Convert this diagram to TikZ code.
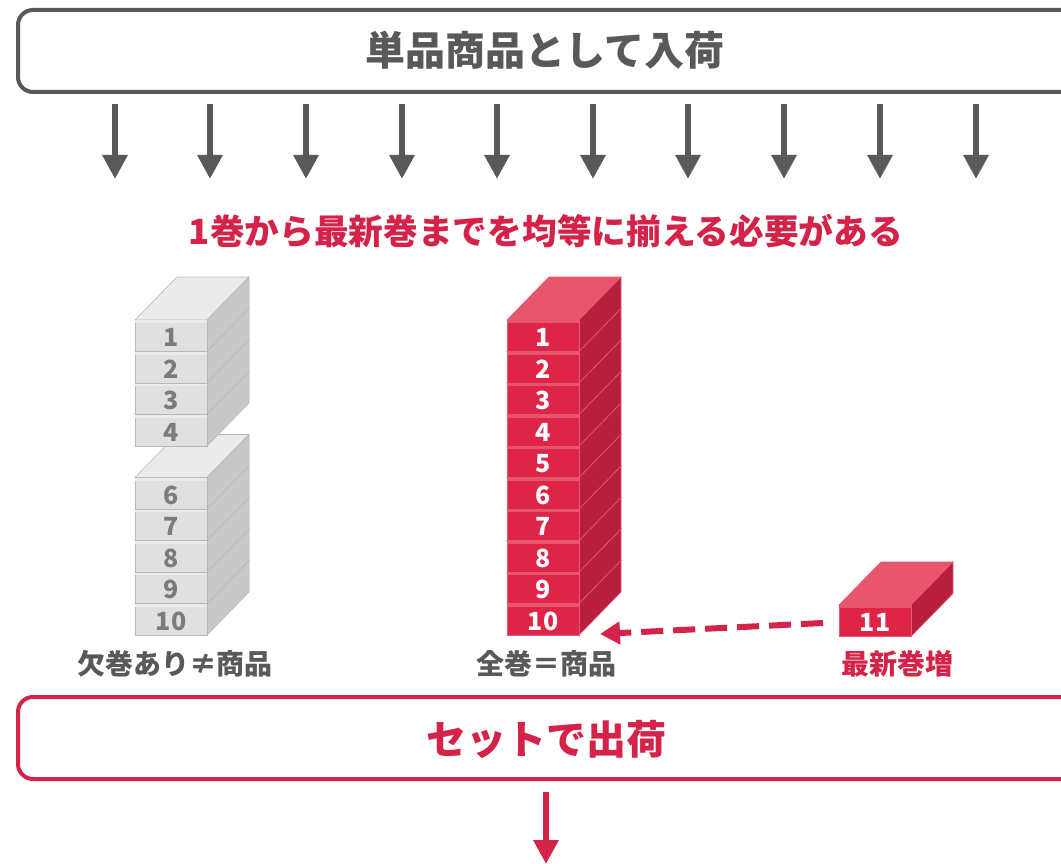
\documentclass[tikz,border=0pt]{standalone}
\usepackage{fontspec}
\setmainfont{Noto Sans CJK JP}
\usetikzlibrary{arrows.meta}

\definecolor{ink}{HTML}{595959}
\definecolor{accent}{HTML}{D42249}
% red volumes
\definecolor{rfront}{HTML}{DE2447}
\definecolor{rtop}{HTML}{E8566E}
\definecolor{rside}{HTML}{B81F3C}
% grey volumes
\definecolor{gfront}{HTML}{E0E0E0}
\definecolor{gtop}{HTML}{EBEBEB}
\definecolor{gside}{HTML}{C8C8C8}
\definecolor{gline}{HTML}{B8B8B8}
\definecolor{gnum}{HTML}{7B7B7B}

% one volume: #1 x, #2 y of front top edge, #3 colour prefix (r/g), #4 number, #5 number colour, #6 edge colour, #7 name
\newcommand{\volume}[7]{%
  \begin{scope}[shift={(#1,#2)}]
    \filldraw[fill=#3top,draw=#6,line width=0.6pt] (0,0) -- (42,-43) -- (114,-43) -- (72,0) -- cycle;
    \filldraw[fill=#3side,draw=#6,line width=0.6pt] (72,0) -- (114,-43) -- (114,-11.5) -- (72,31.5) -- cycle;
    \filldraw[fill=#3front,draw=#6,line width=0.6pt] (0,0) rectangle (72,31.5);
    \fill[#3top] (0.3,0.3) rectangle (71.7,3);
    \node[numtxt,text=#5] (#7) at (36,17.5) {#4};
  \end{scope}%
}

\tikzset{
  banner/.style={draw=#1,line width=4pt,rounded corners=15pt,fill=white,
    minimum width=1072pt,minimum height=82pt,inner sep=0pt},
  headtxt/.style={font=\fontsize{40}{44}\selectfont\bfseries,inner sep=0pt},
  subtxt/.style={font=\fontsize{34.7}{38}\selectfont\bfseries,inner sep=0pt,text=accent},
  captxt/.style={font=\fontsize{28}{30}\selectfont\bfseries,inner sep=0pt},
  numtxt/.style={font=\fontsize{25}{27}\selectfont\bfseries,inner sep=0pt},
  downarrow/.style={line width=6pt,-{Triangle[width=24pt,length=24pt]}},
}

\begin{document}
\begin{tikzpicture}[x=1pt,y=-1pt]
\useasboundingbox (0,0) rectangle (1061,864);
\fill[white] (0,0) rectangle (1061,864);

% incoming single volumes
\node[banner=ink] (inbox) at (554,51) {};
\node[headtxt,text=ink] (intext) at (545,50) {単品商品として入荷};
\foreach \i/\x in {1/115,2/210,3/306,4/402,5/497,6/593,7/688,8/784,9/880,10/976}{
  \coordinate (s\i) at (\x,104);
  \coordinate (e\i) at (\x,179);
  \draw[downarrow,ink] (s\i) -- (e\i);
}

\node[subtxt] (need) at (546,231) {1巻から最新巻までを均等に揃える必要がある};

% incomplete set (volume 5 missing)
\foreach \k [evaluate=\k as \ty using 320+(\k-1)*31.5] in {10,9,8,7,6,4,3,2,1}{
  \volume{135}{\ty}{g}{\k}{gnum}{gline}{g\k}
}
\node[captxt,text=ink] (capA) at (175,664) {欠巻あり≠商品};

% complete set
\foreach \k [evaluate=\k as \ty using 320+(\k-1)*31.5] in {10,9,...,1}{
  \volume{507}{\ty}{r}{\k}{white}{rtop}{r\k}
}
\node[captxt,text=ink] (capB) at (546,664) {全巻＝商品};

% newest volume
\volume{839}{605}{r}{11}{white}{rtop}{r11}
\node[captxt,text=accent] (capC) at (897,664) {最新巻増};

\coordinate (dstart) at (823,623);
\coordinate (dend) at (600,634);
\draw[accent,line width=6pt,dash pattern=on 22pt off 10pt,
  -{Triangle[width=22pt,length=20pt]}] (dstart) -- (dend);

% shipped as a set
\node[banner=accent] (outbox) at (554,738) {};
\node[headtxt,text=accent] (outtext) at (546,739) {セットで出荷};
\coordinate (os) at (546,792);
\coordinate (oe) at (546,864);
\draw[downarrow,accent] (os) -- (oe);
\end{tikzpicture}
\end{document}
